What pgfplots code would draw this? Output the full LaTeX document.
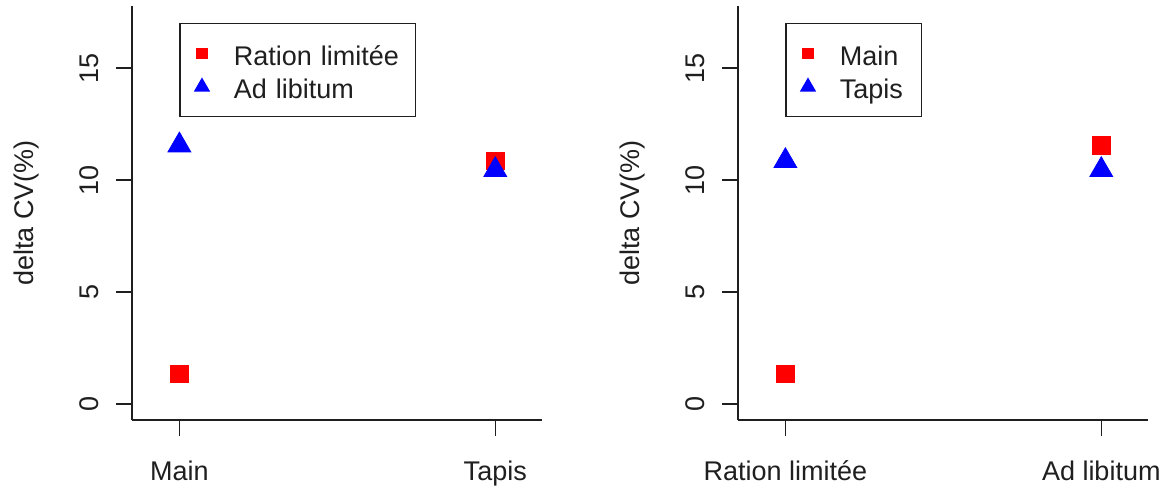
\documentclass[border=0pt]{standalone}
\usepackage{fontspec}
\setmainfont{Liberation Sans}
\usepackage{pgfplots}
\pgfplotsset{compat=1.18}
\definecolor{axgray}{gray}{0.12}
\newcommand{\rfont}{\fontsize{13.5bp}{16bp}\selectfont}
\pgfplotsset{
  rstyle/.style={
    scale only axis, width=205bp, height=207bp,
    xmin=0.85, xmax=2.148, ymin=-0.714, ymax=17.77,
    axis x line*=bottom, axis y line*=left,
    axis line style={line width=0.7bp, axgray},
    tick align=outside, major tick length=8bp,
    tick style={line width=0.7bp, axgray},
    xtick={1,2}, ytick={0,5,10,15},
    /pgf/number format/assume math mode=true,
    tick label style={font=\rfont, text=axgray},
    yticklabel style={xshift=-8.5bp, rotate=90, anchor=south, inner sep=0pt},
    xticklabel style={anchor=base, inner sep=0pt, yshift=-22bp},
    every axis y label/.style={at={(axis description cs:-0.2585,0.5)}, rotate=90, anchor=center, font=\rfont, text=axgray},
    ylabel={delta CV(\%)},
    legend cell align=left,
    legend style={at={(axis cs:1,17)}, anchor=north west, draw=axgray, line width=0.6bp,
      inner xsep=0pt, inner ysep=6.75bp, row sep=0pt, column sep=4.9bp,
      font=\rfont, text=axgray,
      nodes={inner sep=0pt, text height=14.25bp, text depth=2.25bp, align=left}},
  },
  sqplot/.style={only marks, mark=square*, red, mark size=4.35bp, mark options={draw=none, fill=red},
    legend image code/.code={\path[draw=none, fill=none] (-11bp,-8.25bp) rectangle (11bp,8.25bp);
      \draw[##1, mark size=2.5bp] plot coordinates {(0bp,0bp)};}},
  trplot/.style={only marks, mark=triangle*, blue, mark size=6.6bp, mark options={draw=none, fill=blue},
    legend image code/.code={\path[draw=none, fill=none] (-11bp,-8.25bp) rectangle (11bp,8.25bp);
      \draw[##1, mark size=4.1bp] plot coordinates {(0bp,0bp)};}},
}
\begin{document}
\begin{tikzpicture}[x=1bp,y=1bp]
\fill[white] (0,0) rectangle (583,246);
\path[use as bounding box] (0,0) rectangle (583,246);
\begin{axis}[rstyle, at={(66bp,36bp)}, anchor=south west,
  xticklabels={Main,Tapis},
  legend style={nodes={text width=91bp}}]
\addplot[sqplot] coordinates {(1,1.35) (2,10.85)};
\addlegendentry{Ration limitée}
\addplot[trplot] coordinates {(1,11.55) (2,10.45)};
\addlegendentry{Ad libitum}
\end{axis}
\begin{axis}[rstyle, at={(369bp,36bp)}, anchor=south west,
  xticklabels={Ration limitée,Ad libitum},
  legend style={nodes={text width=40.75bp}}]
\addplot[sqplot] coordinates {(1,1.35) (2,11.55)};
\addlegendentry{Main}
\addplot[trplot] coordinates {(1,10.85) (2,10.45)};
\addlegendentry{Tapis}
\end{axis}
\end{tikzpicture}
\end{document}
